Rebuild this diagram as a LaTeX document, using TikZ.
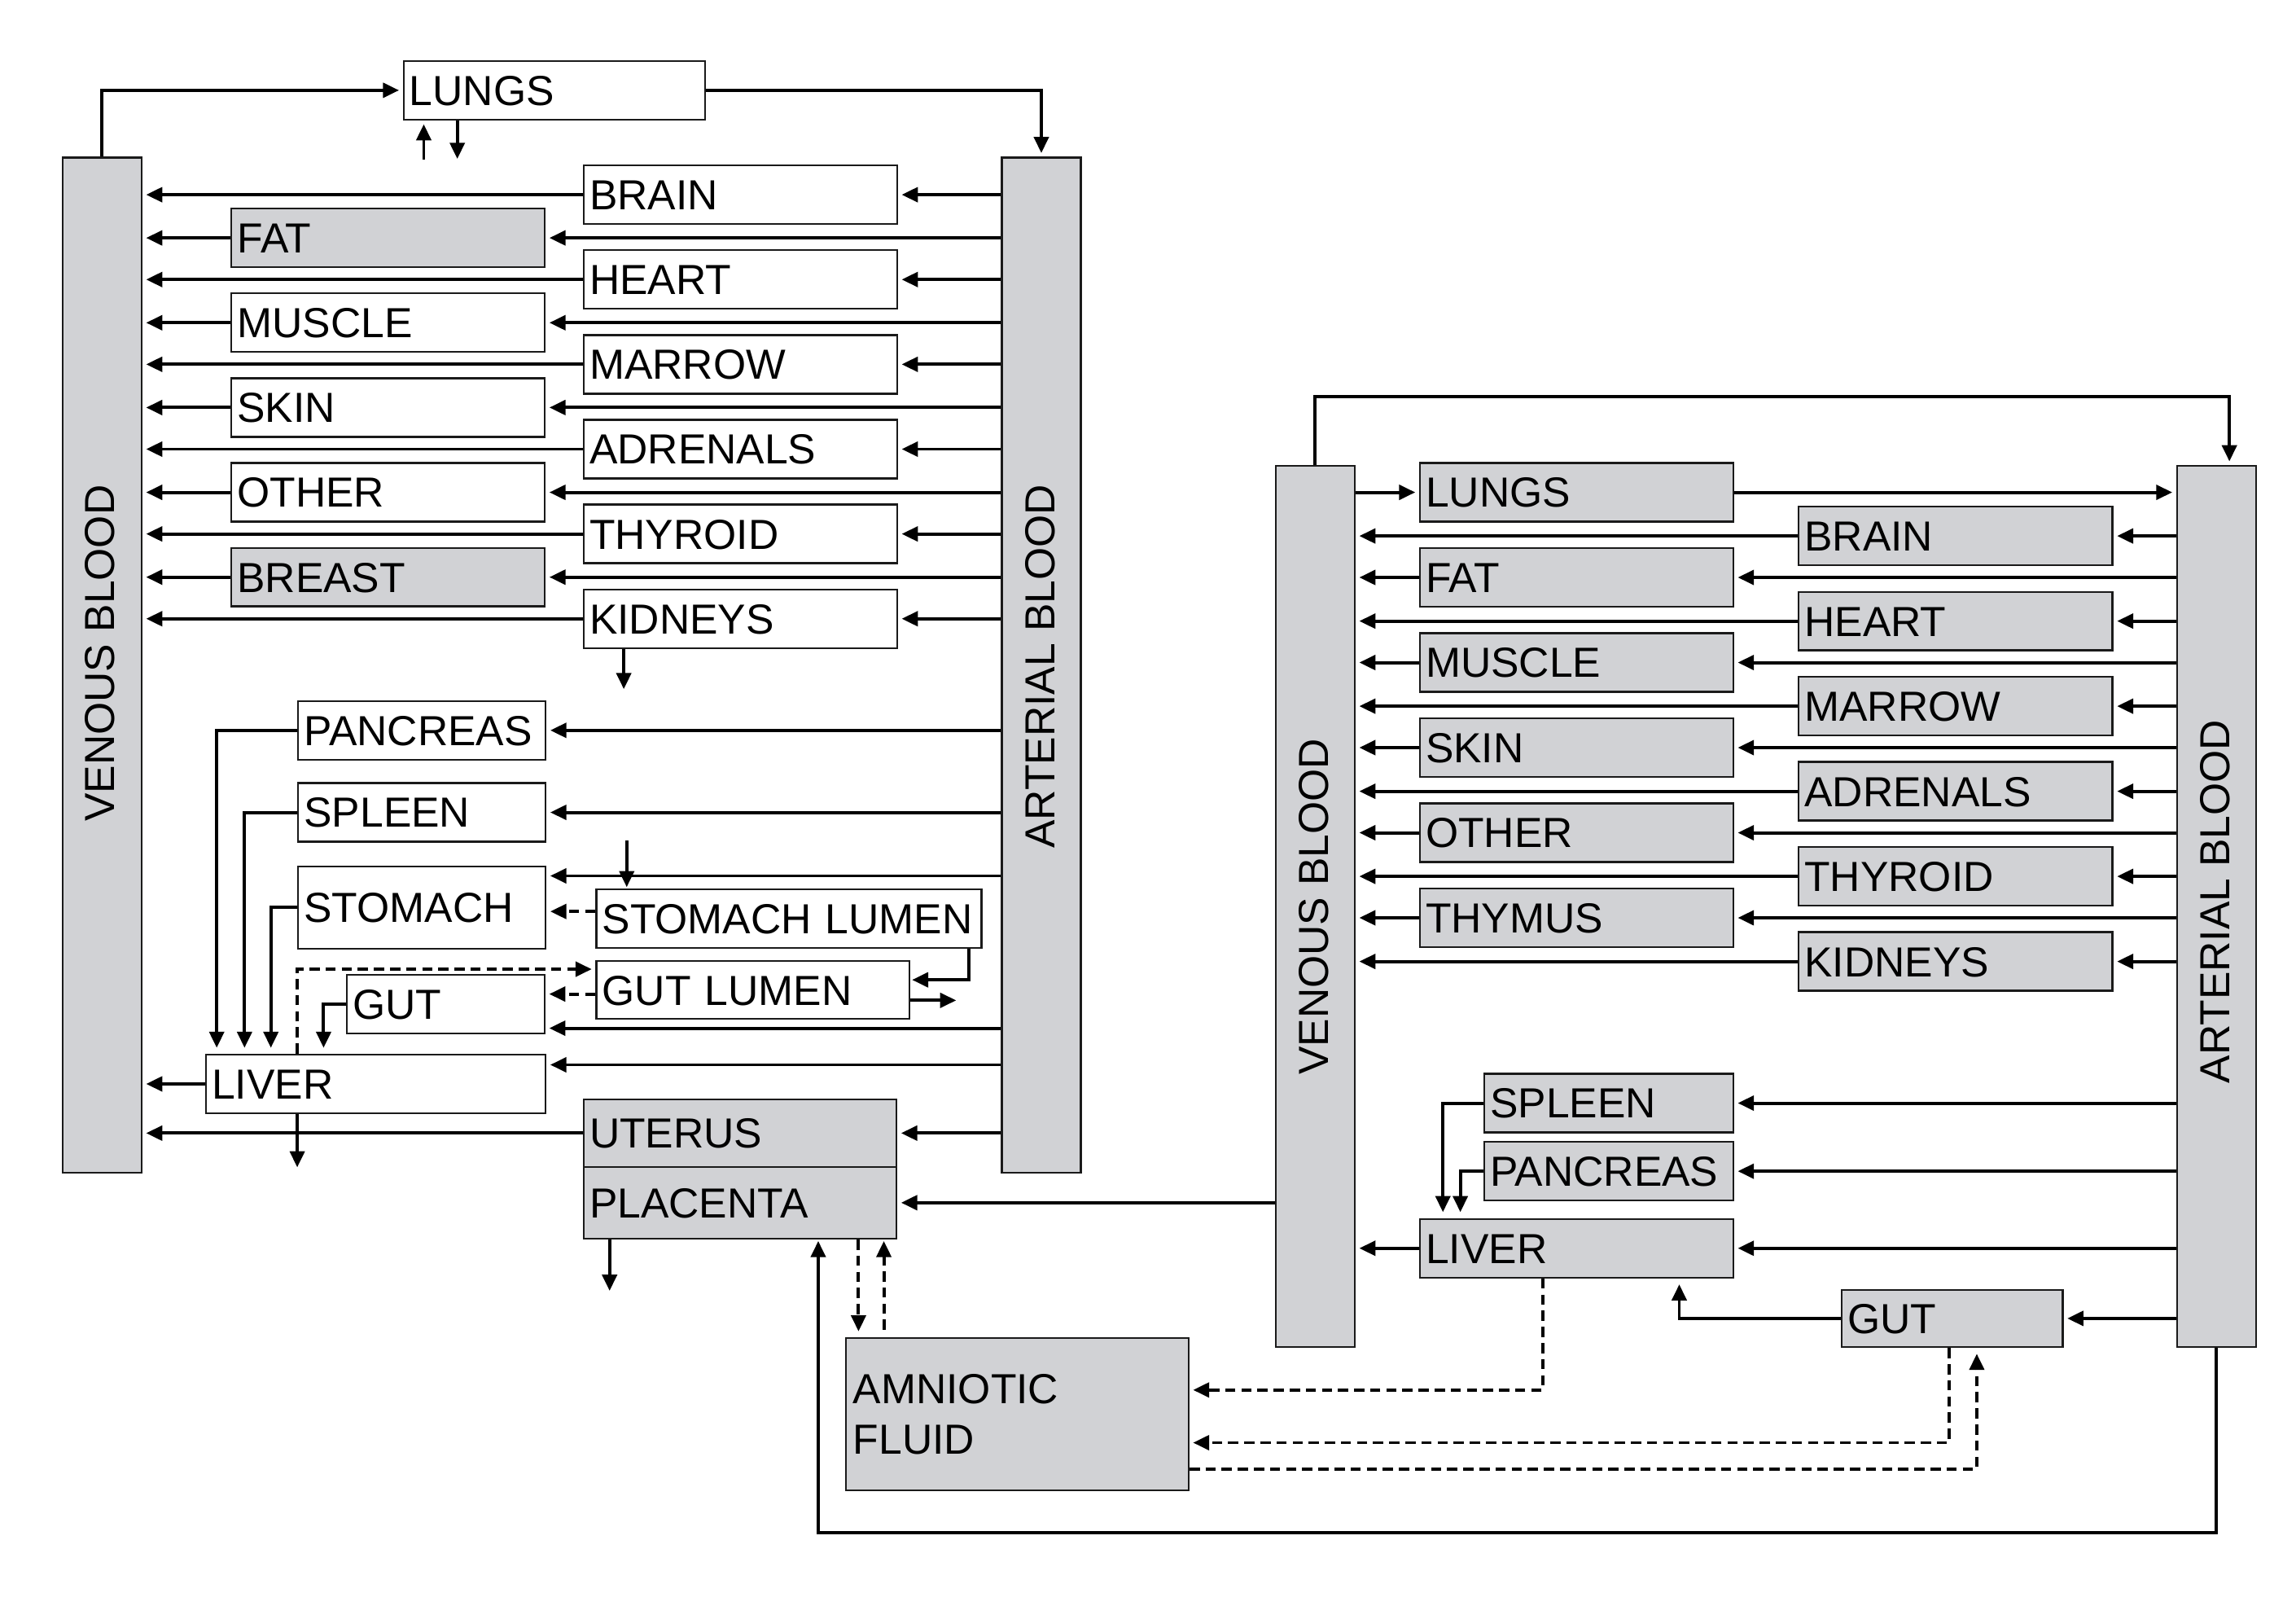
\documentclass[tikz,border=0pt]{standalone}
\usepackage{fontspec}
\setmainfont{Liberation Sans}
\usetikzlibrary{arrows.meta}
\definecolor{boxgray}{HTML}{D1D2D5}
\definecolor{edge}{HTML}{1A1A1A}
\newcommand\organ[7]{\pgfmathsetmacro\orgw{#5-8}\node[#1, text width=\orgw pt, minimum height=#6pt] (#2) at (#3,#4) {#7};}
\begin{document}
\begin{tikzpicture}[x=1pt,y=-1pt,
 box/.style={draw=edge, line width=1.3pt, font=\fontsize{28.7}{34}\selectfont, inner xsep=4pt, inner ysep=0pt, text height=20.5pt, text depth=0pt, align=left, anchor=north west},
 wbox/.style={box, fill=white},
 gbox/.style={box, fill=boxgray},
 bar/.style={draw=edge, line width=1.3pt, fill=boxgray, anchor=north west, inner sep=0pt, minimum width=54pt},
 barlabel/.style={rotate=90, font=\fontsize{28.7}{34}\selectfont, inner sep=0pt},
 arr/.style={-{Triangle[length=11pt,width=10pt]}, line width=2.2pt, shorten >=2.5pt},
 darr/.style={arr, dash pattern=on 7pt off 4pt},
]
\useasboundingbox (0,0) rectangle (1568,1105);

% ===================== LEFT SYSTEM =====================
\node[bar, minimum height=693pt] (aV) at (42,107) {};
\node[barlabel] (aVt) at (68,446) {VENOUS BLOOD};
\node[bar, minimum height=693pt] (aA) at (683.5,107) {};
\node[barlabel] (aAt) at (710.5,455) {ARTERIAL BLOOD};

\organ{wbox}{aLungs}{275}{41}{206}{40}{LUNGS}
\draw[arr] (aV.north) |- (aLungs.west);
\draw[arr] (aLungs.east) -| (aA.north);
\coordinate (aLu1) at (289.4,109);
\coordinate (aLu2) at (312.3,111);
\draw[arr] (aLu1) -- (aLu1 |- aLungs.south);
\draw[arr] (aLungs.south -| aLu2) -- (aLu2);

\foreach \n/\t/\y in {aBrain/BRAIN/112.3, aHeart/HEART/170.2, aMarrow/MARROW/228.1, aAdrenals/ADRENALS/286.0, aThyroid/THYROID/343.9, aKidneys/KIDNEYS/401.8}{
  \organ{wbox}{\n}{398}{\y}{214}{40}{\t}
  \draw[arr] (aA.west |- \n.east) -- (\n.east);
  \draw[arr] (\n.west) -- (aV.east |- \n.west);
}
\foreach \n/\t/\y/\s in {aFat/FAT/141.8/gbox, aMuscle/MUSCLE/199.7/wbox, aSkin/SKIN/257.6/wbox, aOther/OTHER/315.5/wbox, aBreast/BREAST/373.4/gbox}{
  \organ{\s}{\n}{157.4}{\y}{214}{40}{\t}
  \draw[arr] (aA.west |- \n.east) -- (\n.east);
  \draw[arr] (\n.west) -- (aV.east |- \n.west);
}
\coordinate (aKd) at (426,473);
\draw[arr] (aKidneys.south -| aKd) -- (aKd);

\organ{wbox}{aPancreas}{203}{478}{169}{40}{PANCREAS}
\organ{wbox}{aSpleen}{203}{534}{169}{40}{SPLEEN}
\organ{wbox}{aStomach}{203}{591}{169}{56}{STOMACH}
\organ{wbox}{aStomachLumen}{406.6}{606.7}{263}{40}{STOMACH LUMEN}
\organ{wbox}{aGutLumen}{406.6}{655.6}{214}{39.5}{GUT LUMEN}
\organ{wbox}{aGut}{236.3}{665}{135}{40}{GUT}
\organ{wbox}{aLiver}{140}{719.4}{232}{40}{LIVER}
\organ{gbox}{aUterus}{398}{750}{213.6}{46}{UTERUS}
\organ{gbox}{aPlacenta}{398}{796}{213.6}{49}{PLACENTA}

\draw[arr] (aA.west |- aPancreas.east) -- (aPancreas.east);
\draw[arr] (aA.west |- aSpleen.east) -- (aSpleen.east);
\coordinate (aStIn) at (500,598);
\draw[arr] (aA.west |- aStIn) -- (aStomach.east |- aStIn);
\coordinate (aGin) at (500,702);
\draw[arr] (aA.west |- aGin) -- (aGut.east |- aGin);
\coordinate (aLin) at (500,727);
\draw[arr] (aA.west |- aLin) -- (aLiver.east |- aLin);
\draw[arr] (aA.west |- aUterus.east) -- (aUterus.east);
\draw[arr] (aUterus.west) -- (aV.east |- aUterus.west);
\draw[arr] (aLiver.west) -- (aV.east |- aLiver.west);

\coordinate (aPx) at (148,0);
\coordinate (aSx) at (167,0);
\coordinate (aTx) at (185,0);
\coordinate (aGx) at (221,0);
\draw[arr, shorten >=4pt] (aPancreas.west) -| (aLiver.north -| aPx);
\draw[arr, shorten >=4pt] (aSpleen.west) -| (aLiver.north -| aSx);
\draw[arr, shorten >=4pt] (aStomach.west) -| (aLiver.north -| aTx);
\draw[arr, shorten >=4pt] (aGut.west) -| (aLiver.north -| aGx);

\coordinate (aSLin) at (428,574);
\draw[arr, shorten >=1pt] (aSLin) -- (aSLin |- aStomachLumen.north);
\coordinate (aSLd) at (390,622.3);
\draw[darr] (aStomachLumen.west |- aSLd) -- (aStomach.east |- aSLd);
\coordinate (aSLg) at (661.8,669);
\draw[arr, shorten >=1pt] (aStomachLumen.south -| aSLg) |- (aGutLumen.east |- aSLg);
\coordinate (aGLout) at (653,683);
\draw[arr, shorten >=0pt] (aGutLumen.east |- aGLout) -- (aGLout);
\coordinate (aGLd) at (390,678.7);
\draw[darr] (aGutLumen.west |- aGLd) -- (aGut.east |- aGLd);
\coordinate (aLd) at (203,661.7);
\draw[darr] (aLiver.north -| aLd) |- (aGutLumen.west |- aLd);
\coordinate (aLout) at (203,797);
\draw[arr, shorten >=0pt] (aLiver.south -| aLout) -- (aLout);
\coordinate (aPout) at (416.3,881.3);
\draw[arr, shorten >=0pt] (aPlacenta.south -| aPout) -- (aPout);

% ===================== AMNIOTIC FLUID =====================
\node[draw=edge, line width=1.3pt, fill=boxgray, anchor=north west, inner xsep=5pt, inner ysep=0pt,
      text width=224pt, minimum height=104pt, align=left, font=\fontsize{28.7}{34}\selectfont]
      (amn) at (577,913) {AMNIOTIC\\FLUID};
\coordinate (dA) at (586.3,0);
\coordinate (dB) at (603.6,0);
\draw[darr, shorten >=4pt] (aPlacenta.south -| dA) -- (amn.north -| dA);
\draw[darr, shorten <=5pt, shorten >=1pt] (amn.north -| dB) -- (aPlacenta.south -| dB);

% ===================== RIGHT SYSTEM =====================
\node[bar, minimum height=601.5pt] (bV) at (870.5,317.5) {};
\node[barlabel] (bVt) at (897.5,619) {VENOUS BLOOD};
\node[bar, minimum height=601.5pt] (bA) at (1486,317.5) {};
\node[barlabel] (bAt) at (1513,615.5) {ARTERIAL BLOOD};

\coordinate (bTop) at (1522.5,271);
\draw[arr] (bV.north) |- (bTop) -- (bTop |- bA.north);

\organ{gbox}{bLungs}{969}{315.5}{214}{40}{LUNGS}
\draw[arr] (bV.east |- bLungs.west) -- (bLungs.west);
\draw[arr] (bLungs.east) -- (bA.west |- bLungs.east);

\foreach \n/\t/\y in {bFat/FAT/373.6, bMuscle/MUSCLE/431.7, bSkin/SKIN/489.8, bOther/OTHER/547.9, bThymus/THYMUS/606.0}{
  \organ{gbox}{\n}{969}{\y}{214}{40}{\t}
  \draw[arr] (bA.west |- \n.east) -- (\n.east);
  \draw[arr] (\n.west) -- (bV.east |- \n.west);
}
\foreach \n/\t/\y in {bBrain/BRAIN/345.3, bHeart/HEART/403.4, bMarrow/MARROW/461.5, bAdrenals/ADRENALS/519.6, bThyroid/THYROID/577.7, bKidneys/KIDNEYS/635.8}{
  \organ{gbox}{\n}{1227.7}{\y}{214.3}{40}{\t}
  \draw[arr] (bA.west |- \n.east) -- (\n.east);
  \draw[arr] (\n.west) -- (bV.east |- \n.west);
}

\organ{gbox}{bSpleen}{1013}{732.5}{170}{40}{SPLEEN}
\organ{gbox}{bPancreas}{1013}{779}{170}{40}{PANCREAS}
\organ{gbox}{bLiver}{969}{831.6}{214}{40}{LIVER}
\organ{gbox}{bGut}{1257}{880}{151}{39}{GUT}

\draw[arr] (bA.west |- bSpleen.east) -- (bSpleen.east);
\draw[arr] (bA.west |- bPancreas.east) -- (bPancreas.east);
\draw[arr] (bA.west |- bLiver.east) -- (bLiver.east);
\draw[arr] (bA.west |- bGut.east) -- (bGut.east);
\draw[arr] (bLiver.west) -- (bV.east |- bLiver.west);

\coordinate (bSx) at (985.4,0);
\coordinate (bPx) at (997.3,0);
\draw[arr, shorten >=4pt] (bSpleen.west) -| (bLiver.north -| bSx);
\draw[arr, shorten >=4pt] (bPancreas.west) -| (bLiver.north -| bPx);
\coordinate (bGx) at (1146.8,0);
\draw[arr, shorten >=4pt] (bGut.west) -| (bLiver.south -| bGx);

\draw[arr] (bV.west |- aPlacenta.east) -- (aPlacenta.east);

\coordinate (bL1) at (1053.6,949);
\draw[darr] (bLiver.south -| bL1) |- (amn.east |- bL1);
\coordinate (bG1) at (1331,985);
\draw[darr] (bGut.south -| bG1) |- (amn.east |- bG1);
\coordinate (bG2) at (1350,1002.8);
\draw[darr, shorten >=4pt] (amn.east |- bG2) -| (bGut.south -| bG2);

\coordinate (lp) at (558.8,1046.2);
\draw[arr, shorten >=1pt] (bA.south) |- (lp) -- (lp |- aPlacenta.south);
\end{tikzpicture}
\end{document}
